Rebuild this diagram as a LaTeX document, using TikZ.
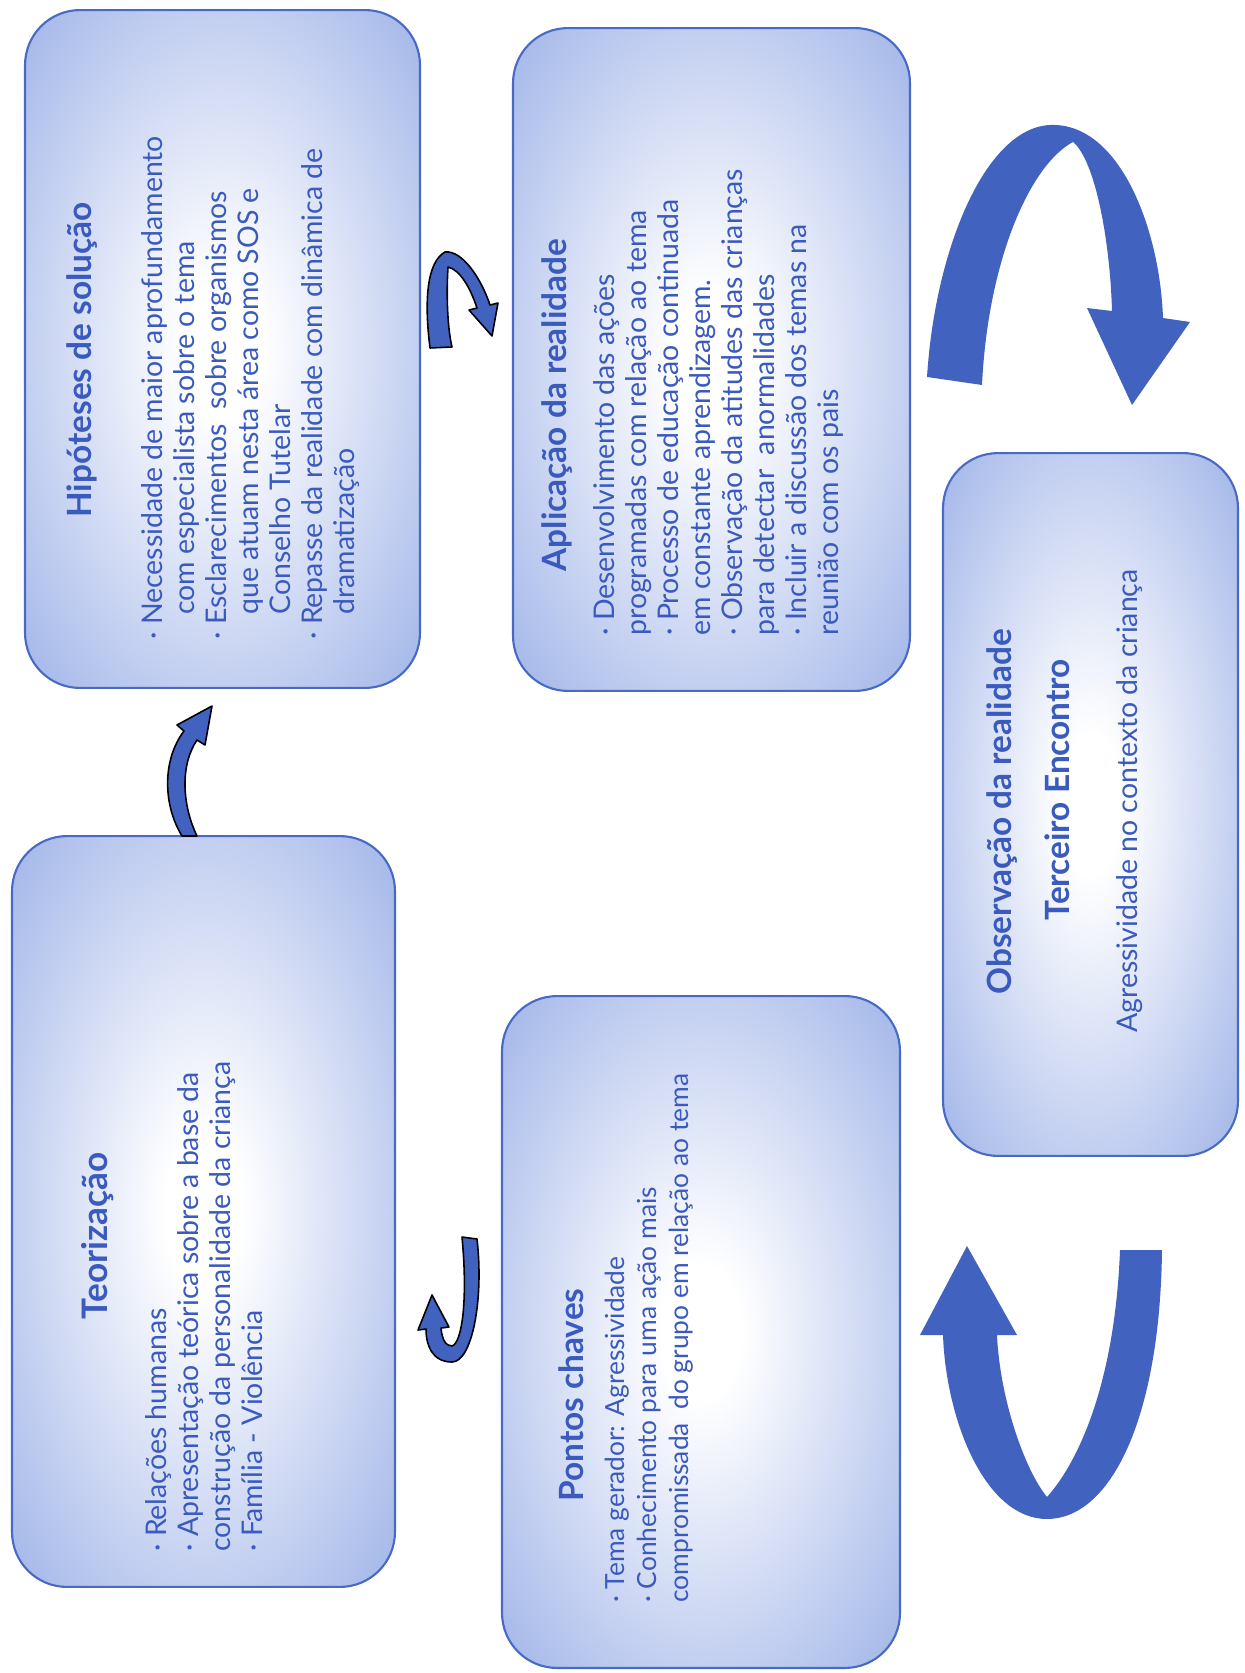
\documentclass[tikz,border=0pt]{standalone}
\usepackage{fontspec}
\setmainfont{Lato}
\usetikzlibrary{positioning,calc}
\definecolor{panelblue}{RGB}{160,180,232}
\definecolor{paneledge}{RGB}{72,106,196}
\definecolor{inkblue}{RGB}{58,90,190}
\definecolor{arrowblue}{RGB}{66,98,192}
\pgfdeclareradialshading{panelglow}{\pgfpoint{0bp}{0bp}}{color(0bp)=(white); color(5bp)=(white); color(36bp)=(panelblue); color(50bp)=(panelblue)}

\begin{document}
\begin{tikzpicture}[x=0.02cm,y=-0.02cm,
        panel/.style={draw=paneledge, line width=1.2pt, rounded corners=1.1cm,
                      shade, shading=panelglow, inner sep=0pt},
        heading/.style={rotate=90, text=inkblue, inner sep=0pt,
                        font=\fontsize{19}{22}\selectfont\bfseries},
        bullets/.style={rotate=90, text=inkblue, inner sep=0pt, align=left,
                        anchor=north west, font=\fontsize{16.2}{18.2}\selectfont},
        bigarrow/.style={fill=arrowblue},
        smallarrow/.style={fill=arrowblue, draw=black, line width=0.9pt, line join=round}]
  \useasboundingbox (0,0) rectangle (1244,1673);

  % the five stages
  \node[panel, minimum width=7.9cm, minimum height=13.56cm] (hipoteses) at (222.5,349) {};
  \node[panel, minimum width=7.94cm, minimum height=13.26cm] (aplicacao) at (711.5,359.5) {};
  \node[panel, minimum width=7.66cm, minimum height=15.02cm] (teorizacao) at (203.5,1211.5) {};
  \node[panel, minimum width=7.96cm, minimum height=13.44cm] (pontos) at (701,1332) {};
  \node[panel, minimum width=5.9cm, minimum height=14.06cm] (observacao) at (1090.5,804.5) {};

  % texts
  \node[heading] (hiptitle) at (82,360) {Hipóteses de solução};
  \node[bullets] (hiptext) at (141,640) {· Necessidade de maior aprofundamento\\
    \hspace*{0.5cm}com especialista sobre o tema\\
    · Esclarecimentos \ sobre organismos\\
    \hspace*{0.5cm}que atuam nesta área como SOS e\\
    \hspace*{0.5cm}Conselho Tutelar\\
    · Repasse da realidade com dinâmica de\\
    \hspace*{0.5cm}dramatização};

  \node[heading] (aptitle) at (557,405) {Aplicação da realidade};
  \node[bullets] (aptext) at (593,636) {· Desenvolvimento das ações\\
    programadas com relação ao tema\\
    · Processo de educação continuada\\
    em constante aprendizagem.\\
    · Observação da atitudes das crianças\\
    para detectar \ anormalidades\\
    · Incluir a discussão dos temas na\\
    reunião com os pais};

  \node[heading, font=\fontsize{20}{23}\selectfont\bfseries] (teotitle) at (98,1236) {Teorização};
  \node[bullets] (teotext) at (145,1552) {· Relações humanas\\
    · Apresentação teórica sobre a base da\\
    construção da personalidade da criança\\
    · Família - Violência};

  \node[heading] (pontitle) at (571,1395) {Pontos chaves};
  \node[bullets, font=\fontsize{15}{18.2}\selectfont] (pontext) at (605,1603) {· Tema gerador: Agressividade\\
    · Conhecimento para uma ação mais\\
    compromissada \ do grupo em relação ao tema};

  \node[heading] (obstitle) at (1002,812) {Observação da realidade};
  \node[heading] (obsmeeting) at (1057,790) {Terceiro Encontro};
  \node[rotate=90, text=inkblue, inner sep=0pt, font=\fontsize{16.2}{18.2}\selectfont]
    (obstext) at (1130,801) {Agressividade no contexto da criança};

  % big arrows
  \coordinate (toptail) at (927,377);
  \coordinate (toptip) at (1132,405);
  \fill[bigarrow] (toptail) .. controls (935,250) and (985,128) .. (1050,125)
    .. controls (1120,122) and (1160,230) .. (1163,318) -- (1190,322) -- (toptip)
    -- (1087,308) -- (1112,311) .. controls (1110,240) and (1095,160) .. (1073,142)
    .. controls (1030,165) and (988,260) .. (982,385) -- cycle;

  \coordinate (bottail) at (1120,1250);
  \coordinate (bottip) at (967,1246);
  \fill[bigarrow] (bottail) -- (1162,1250) .. controls (1160,1420) and (1110,1519) .. (1047,1519)
    .. controls (985,1519) and (946,1420) .. (943,1335) -- (920,1335) -- (bottip)
    -- (1017,1335) -- (997,1335) .. controls (1000,1400) and (1025,1470) .. (1047,1497)
    .. controls (1080,1460) and (1115,1380) .. (bottail) -- cycle;

  % small arrows
  \coordinate (hatail) at (430,348);
  \coordinate (hatip) at (492,336);
  \filldraw[smallarrow] (hatail) .. controls (424,300) and (427,262) .. (445,252)
    .. controls (462,250) and (481,278) .. (490,305) -- (498,303) -- (hatip) -- (469,310)
    -- (477,308) .. controls (470,287) and (460,270) .. (448,267)
    .. controls (446,300) and (448,330) .. (452,347) -- cycle;

  \coordinate (httail) at (182,836);
  \coordinate (httip) at (212,706);
  \filldraw[smallarrow] (httail) .. controls (163,805) and (162,760) .. (184,731)
    -- (177,725) -- (httip) -- (205,745) -- (197,740)
    .. controls (180,765) and (182,805) .. (197,836) -- cycle;

  \coordinate (tptail) at (462,1237);
  \coordinate (tptip) at (432,1295);
  \filldraw[smallarrow] (tptail) -- (477,1239) .. controls (484,1300) and (472,1362) .. (452,1362)
    .. controls (432,1362) and (426,1345) .. (426,1329) -- (418,1330) -- (tptip)
    -- (449,1327) -- (441,1328) .. controls (442,1340) and (446,1346) .. (452,1346)
    .. controls (462,1343) and (468,1300) .. (tptail) -- cycle;
\end{tikzpicture}
\end{document}
